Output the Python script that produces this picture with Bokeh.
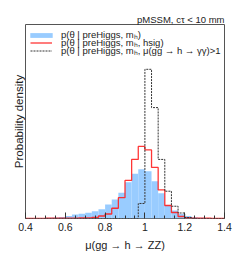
import numpy as np
from bokeh.plotting import figure
from bokeh.models import Range1d, FixedTicker, Legend, LegendItem, Title
from bokeh.embed import file_html
from bokeh.resources import INLINE

# ---- data (probability densities, 30 bins from 0.4 to 1.4) ----
bin_lo = 0.4
bin_hi = 1.4
n_bins = 30
blue_vals = [0.02, 0.03, 0.04, 0.06, 0.08, 0.12, 0.20, 0.32, 0.38, 0.46,
             0.58, 0.74, 1.12, 1.52, 2.06, 2.90, 3.58, 3.94, 3.78, 2.98,
             2.02, 1.08, 0.64, 0.36, 0.20, 0.10, 0.05, 0.03, 0.02, 0.02]
red_vals = [0.01, 0.01, 0.01, 0.02, 0.02, 0.02, 0.03, 0.03, 0.04, 0.05,
            0.08, 0.20, 0.36, 0.82, 1.66, 3.04, 4.72, 5.76, 5.48, 4.08,
            2.28, 1.04, 0.48, 0.16, 0.06, 0.03, 0.02, 0.02, 0.01, 0.01]
black_vals = [0.0, 0.0, 0.0, 0.0, 0.0, 0.0, 0.0, 0.0, 0.0, 0.0,
              0.0, 0.0, 0.0, 0.0, 0.0, 0.0, 0.0, 1.20, 11.92, 8.86,
              4.72, 2.18, 0.98, 0.44, 0.08, 0.0, 0.0, 0.0, 0.0, 0.0]
legend_labels = ["p(θ | preHiggs, mₕ)",
                 "p(θ | preHiggs, mₕ, hsig)",
                 "p(θ | preHiggs, mₕ, μ(gg → h → γγ)>1"]
tick_values = [0.4, 0.6, 0.8, 1.0, 1.2, 1.4]
tick_labels = ["0.4", "0.6", "0.8", "1", "1.2", "1.4"]
minor_values = [0.45, 0.5, 0.55, 0.65, 0.7, 0.75, 0.85, 0.9, 0.95,
                1.05, 1.1, 1.15, 1.25, 1.3, 1.35]
title_text = "pMSSM, cτ < 10 mm"
x_title = "μ(gg → h → ZZ)"
y_title = "Probability density"
y_max = 15.5

edges = np.linspace(bin_lo, bin_hi, n_bins + 1)

FONT = "Liberation Sans"
FRAME_W = 199
FRAME_H = 194

p = figure(frame_width=FRAME_W, frame_height=FRAME_H,
           output_backend="svg", toolbar_location=None,
           x_range=Range1d(bin_lo, bin_hi), y_range=Range1d(0, y_max),
           min_border_left=25, min_border_right=25, min_border_top=24,
           min_border_bottom=39)
p.background_fill_color = "white"
p.border_fill_color = "white"
p.outline_line_color = "#555555"
p.outline_line_width = 1
p.xgrid.visible = False
p.ygrid.visible = False
p.yaxis.visible = False

p.title = Title(text=title_text, align="right", standoff=0,
                text_font=FONT, text_font_size="9.5px",
                text_font_style="normal", text_color="#222222")
p.add_layout(Title(text=y_title, align="center", offset=9, standoff=1,
                   text_font=FONT, text_font_size="11.5px",
                   text_font_style="normal", text_color="#222222"), "left")

ax = p.xaxis[0]
ax.ticker = FixedTicker(ticks=tick_values, minor_ticks=minor_values)
ax.major_label_overrides = {v: s for v, s in zip(tick_values, tick_labels)}
ax.axis_line_color = None
ax.major_tick_in = 6
ax.major_tick_out = 0
ax.minor_tick_in = 3
ax.minor_tick_out = 0
ax.major_tick_line_color = "#333333"
ax.minor_tick_line_color = "#333333"
ax.major_label_standoff = 4
ax.major_label_text_font = FONT
ax.major_label_text_font_size = "10.5px"
ax.major_label_text_color = "#222222"
ax.axis_label = x_title
ax.axis_label_text_font = FONT
ax.axis_label_text_font_style = "normal"
ax.axis_label_text_font_size = "11px"
ax.axis_label_text_color = "#222222"
ax.axis_label_standoff = 5

r_blue = p.quad(left=edges[:-1], right=edges[1:], bottom=0, top=blue_vals,
                fill_color="#99ccff", line_color=None)
r_red = p.step(x=edges, y=red_vals + [red_vals[-1]], mode="after",
               line_color="#ff2020", line_width=1.3, line_alpha=0.9)
r_black = p.step(x=edges, y=black_vals + [black_vals[-1]], mode="after",
                 line_color="#333333", line_width=1, line_dash="2 1")

row_centres = [11.5, 19.3, 27.1]
item_h = 11
leg_specs = [(r_blue, 2, 28, 6, 6), (r_red, 5, 22, 9, item_h),
             (r_black, 5, 22, 9, item_h)]
for (rend, x0, gw, so, gh), lab, yc in zip(leg_specs, legend_labels, row_centres):
    leg = Legend(items=[LegendItem(label=lab, renderers=[rend])],
                 location=(x0, int(round(FRAME_H - (yc + item_h / 2)))),
                 margin=0, padding=0, spacing=0,
                 glyph_width=gw, glyph_height=gh,
                 label_height=item_h, label_standoff=so,
                 label_text_font=FONT, label_text_font_size="9.5px",
                 label_text_color="#222222",
                 border_line_color=None, background_fill_alpha=0)
    p.add_layout(leg)

open("out.html", "w").write(file_html(p, INLINE))
